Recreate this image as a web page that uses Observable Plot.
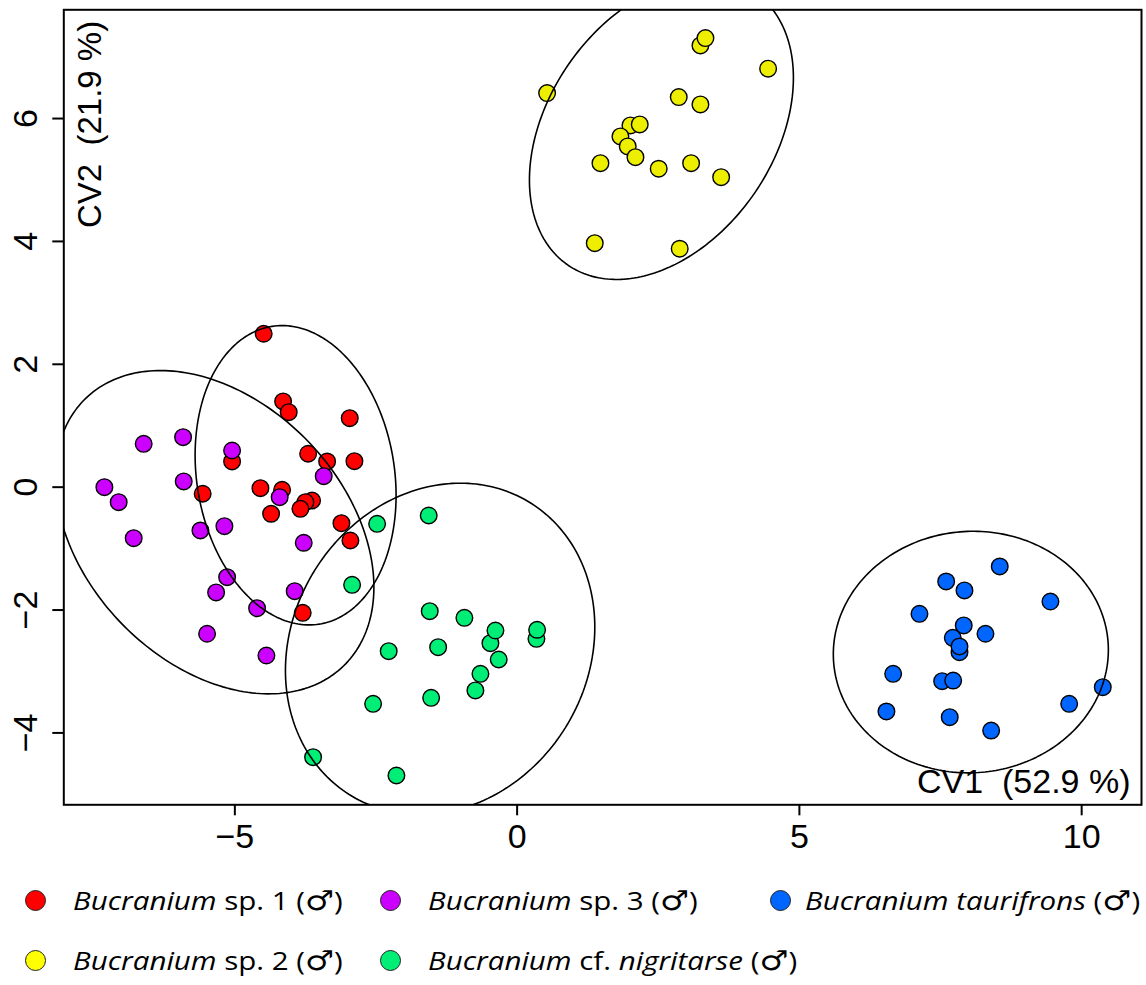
<!DOCTYPE html>
<html>
<head>
<meta charset="utf-8">
<script src="https://cdn.jsdelivr.net/npm/d3@7"></script>
<script src="https://cdn.jsdelivr.net/npm/@observablehq/plot@0.6"></script>
<style>
  body { margin: 0; background: #fff; }
  #chart { position: relative; width: 1146px; height: 985px; }
  #chart svg { display: block; }
  .legend { position: absolute; left: 0; top: 860px; width: 1146px; height: 125px;
            font-family: "Open Sans", sans-serif; font-size: 25px; color: #000; }
  .item { position: absolute; display: flex; align-items: center; white-space: nowrap; }
  .dot { width: 21px; height: 21px; border-radius: 50%; border: 1.2px solid #222;
         box-sizing: border-box; margin-right: 27px; flex: none; }
  .lbl { display: inline-block; transform: scaleX(1.18); transform-origin: 0 50%; }
  .male { font-family: "DejaVu Sans", sans-serif; font-weight: normal;
          font-style: normal; font-size: 1.1em; }
</style>
</head>
<body>
<div id="chart"></div>
<script>
// Canonical variate scores, one pair of arrays per species (CV1, CV2)
const sp1X = [-4.489, -4.145, -4.046, -2.965, -5.049, -3.702, -3.366, -2.882, -5.570,
              -4.547, -4.163, -3.632, -3.750, -3.839, -4.358, -3.112, -2.953, -3.798];
const sp1Y = [2.497, 1.395, 1.221, 1.123, 0.418, 0.544, 0.418, 0.423, -0.107,
              -0.016, -0.042, -0.217, -0.244, -0.352, -0.433, -0.586, -0.868, -2.045];

const sp2X = [0.531, 4.446, 2.863, 3.247, 3.247, 3.336, 2.007, 2.172, 1.830,
              1.959, 2.096, 1.476, 2.508, 3.082, 3.614, 1.375, 2.880];
const sp2Y = [6.414, 6.811, 6.349, 6.230, 7.190, 7.309, 5.888, 5.904, 5.709,
              5.546, 5.372, 5.274, 5.183, 5.274, 5.046, 3.972, 3.881];

const sp3X = [-6.615, -5.917, -5.049, -3.426, -7.311, -7.058, -5.906, -4.206, -6.792,
              -5.610, -5.185, -3.780, -5.137, -5.332, -3.940, -4.606, -5.492, -4.441];
const sp3Y = [0.706, 0.814, 0.597, 0.179, 0.000, -0.244, 0.093, -0.163, -0.830,
              -0.705, -0.635, -0.905, -1.465, -1.714, -1.693, -1.970, -2.386, -2.740];

const nigX = [-2.480, -1.566, -2.923, -1.548, -0.934, -0.473, -0.384, 0.342, 0.354,
              -2.275, -1.399, -0.326, -0.650, -0.739, -2.551, -1.523, -3.614, -2.138];
const nigY = [-0.596, -0.461, -1.589, -2.019, -2.126, -2.539, -2.333, -2.468, -2.321,
              -2.670, -2.605, -2.805, -3.038, -3.309, -3.526, -3.428, -4.395, -4.693];

const tauX = [8.549, 7.600, 7.924, 9.447, 7.127, 7.911, 8.296, 7.717, 7.836,
              7.836, 6.661, 7.529, 7.724, 10.374, 9.779, 6.542, 7.663, 8.397];
const tauY = [-1.291, -1.535, -1.681, -1.861, -2.061, -2.251, -2.386, -2.452, -2.686,
              -2.593, -3.038, -3.158, -3.147, -3.256, -3.526, -3.651, -3.744, -3.961];

// Species, in drawing order
const speciesKeys = ["sp1", "sp2", "sp3", "nigritarse", "taurifrons"];
const speciesX = [sp1X, sp2X, sp3X, nigX, tauX];
const speciesY = [sp1Y, sp2Y, sp3Y, nigY, tauY];
const speciesColors = ["#FF0000", "#EEEE00", "#CC00FF", "#00EE76", "#0066FF"];

// 95% ellipses: centre, horizontal / vertical half-extent, correlation
const ellCX  = [-3.924, 2.556, -5.359, -1.364, 8.037];
const ellCY  = [0.194, 5.831, -0.733, -2.632, -2.684];
const ellRX  = [1.780, 2.338, 2.822, 2.740, 2.436];
const ellRY  = [2.436, 2.450, 2.631, 2.697, 1.966];
const ellRho = [-0.134, 0.340, -0.340, 0.131, 0.018];

// Axis settings
const xTicks = [-5, 0, 5, 10];
const yTicks = [-4, -2, 0, 2, 4, 6];
const xLabel = "CV1 \u00a0(52.9 %)";
const yLabel = "CV2 \u00a0(21.9 %)";

// Legend entries (two rows)
const legendKeys = ["sp1", "sp3", "taurifrons", "sp2", "nigritarse"];
const legendColors = ["#FF0000", "#CC00FF", "#0066FF", "#FFFF00", "#00EE76"];
const legendHtml = [
  "<i>Bucranium</i> sp. 1 (<span class='male'>♂</span>)",
  "<i>Bucranium</i> sp. 3 (<span class='male'>♂</span>)",
  "<i>Bucranium taurifrons</i> (<span class='male'>♂</span>)",
  "<i>Bucranium</i> sp. 2 (<span class='male'>♂</span>)",
  "<i>Bucranium</i> cf. <i>nigritarse</i> (<span class='male'>♂</span>)"
];

// Build the point table
const points = [];
speciesKeys.forEach((k, i) => {
  speciesX[i].forEach((x, j) => {
    points.push({species: k, x, y: speciesY[i][j], color: speciesColors[i]});
  });
});

// Trace each ellipse from its parameters
const ellipsePts = [];
const steps = 240;
speciesKeys.forEach((k, i) => {
  const s = Math.sqrt(1 - ellRho[i] * ellRho[i]);
  for (let t = 0; t <= steps; t++) {
    const a = (2 * Math.PI * t) / steps;
    ellipsePts.push({
      species: k,
      x: ellCX[i] + ellRX[i] * Math.cos(a),
      y: ellCY[i] + ellRY[i] * (ellRho[i] * Math.cos(a) + s * Math.sin(a))
    });
  }
});

const chart = Plot.plot({
  width: 1146,
  height: 860,
  marginLeft: 63.3,
  marginRight: 5,
  marginTop: 9.3,
  marginBottom: 55.7,
  x: {domain: [-8.03, 11.06]},
  y: {domain: [-5.17, 7.77]},
  color: {type: "identity"},
  style: {fontFamily: "'Liberation Sans', Arial, sans-serif", fontSize: "34px", color: "#000", background: "#fff"},
  marks: [
    Plot.dot(points, {x: "x", y: "y", r: 8.3, fill: "color", stroke: "#000", strokeWidth: 1.4}),
    Plot.line(ellipsePts, {x: "x", y: "y", z: "species", stroke: "#000", strokeWidth: 1.6, clip: true}),
    Plot.frame({stroke: "#000", strokeWidth: 2}),
    Plot.axisX({ticks: xTicks, tickSize: 11, tickPadding: 8, label: null, strokeWidth: 2, fontSize: 34}),
    Plot.axisY({ticks: yTicks, tickSize: 11, tickRotate: -90, tickPadding: 15.6, label: null, strokeWidth: 2, fontSize: 34}),
    Plot.text([xLabel], {text: d => d, frameAnchor: "bottom-right", textAnchor: "end", lineAnchor: "bottom", dx: -11, dy: -12, fontSize: 34}),
    Plot.text([yLabel], {text: d => d, frameAnchor: "top-left", rotate: -90, textAnchor: "end", lineAnchor: "bottom", dx: 37, dy: 11, fontSize: 33})
  ]
});

const root = document.getElementById("chart");
root.appendChild(chart);

// Legend below the plot
const legend = document.createElement("div");
legend.className = "legend";
const legendCols = [35.7, 390.7, 780, 35.7, 390.7];
const legendRows = [40, 40, 40, 100, 100];
legendKeys.forEach((k, i) => {
  const item = document.createElement("div");
  item.className = "item";
  item.style.left = (legendCols[i] - 10.5) + "px";
  item.style.top = (legendRows[i] - 20) + "px";
  item.style.height = "40px";
  const dot = document.createElement("span");
  dot.className = "dot";
  dot.style.background = legendColors[i];
  if (k === "taurifrons") dot.style.marginRight = "14px";
  const label = document.createElement("span");
  label.className = "lbl";
  label.innerHTML = legendHtml[i];
  item.appendChild(dot);
  item.appendChild(label);
  legend.appendChild(item);
});
root.appendChild(legend);
</script>
</body>
</html>
